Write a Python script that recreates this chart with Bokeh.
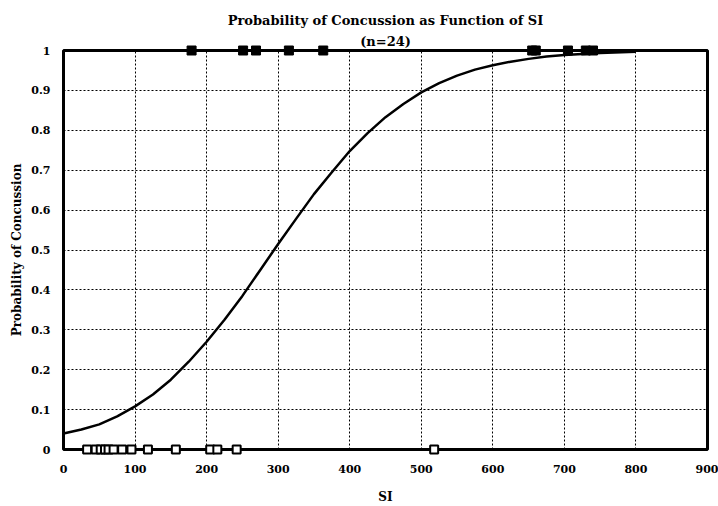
from bokeh.plotting import figure
from bokeh.models import Range1d, FixedTicker, Title
from bokeh.embed import file_html
from bokeh.resources import INLINE

# ---- data ----
curve_si = [0, 25, 50, 75, 100, 125, 150, 175, 200, 225, 250, 275, 300, 325, 350,
            375, 400, 425, 450, 475, 500, 525, 550, 575, 600, 625, 650, 675, 700,
            750, 800]
curve_p = [0.04, 0.05, 0.063, 0.083, 0.108, 0.138, 0.175, 0.22, 0.27, 0.325, 0.385,
           0.45, 0.515, 0.578, 0.64, 0.695, 0.748, 0.793, 0.833, 0.866, 0.895, 0.918,
           0.937, 0.952, 0.963, 0.972, 0.979, 0.985, 0.989, 0.994, 0.997]

concussion_si = [179, 251, 269, 315, 363, 655, 660, 705, 730, 740]
concussion_p = [1, 1, 1, 1, 1, 1, 1, 1, 1, 1]

no_concussion_si = [33, 45, 52, 58, 63, 70, 82, 95, 118, 157, 205, 215, 242, 518]
no_concussion_p = [0, 0, 0, 0, 0, 0, 0, 0, 0, 0, 0, 0, 0, 0]

x_ticks = [0, 100, 200, 300, 400, 500, 600, 700, 800, 900]
y_ticks = [0, 0.1, 0.2, 0.3, 0.4, 0.5, 0.6, 0.7, 0.8, 0.9, 1]
y_tick_labels = ["0", "0.1", "0.2", "0.3", "0.4", "0.5", "0.6", "0.7", "0.8", "0.9", "1"]

title_text = "Probability of Concussion as Function of SI"
subtitle_text = "(n=24)"
x_label = "SI"
y_label = "Probability of Concussion"

FONT = "DejaVu Serif"

p = figure(width=718, height=506, output_backend="svg", toolbar_location=None,
           x_range=Range1d(0, 900), y_range=Range1d(0, 1),
           title=title_text,
           min_border_left=63, min_border_right=11, min_border_bottom=56, min_border_top=50)

p.title.align = "center"
p.title.text_font = FONT
p.title.text_font_size = "13px"
p.title.text_font_style = "bold"
p.title.text_color = "black"
p.title.standoff = 3
p.add_layout(Title(text=subtitle_text, align="center", text_font=FONT, text_color="black",
                   text_font_size="13px", text_font_style="bold", standoff=4), "above")

p.background_fill_color = "white"
p.border_fill_color = "white"
p.outline_line_color = "black"
p.outline_line_width = 3

# grid
p.xgrid.ticker = FixedTicker(ticks=x_ticks[1:-1])
p.ygrid.ticker = FixedTicker(ticks=y_ticks[1:-1])
for g in (p.xgrid, p.ygrid):
    g.grid_line_color = "black"
    g.grid_line_width = 1
    g.grid_line_dash = "2 2"

# axes
p.xaxis.ticker = FixedTicker(ticks=x_ticks)
p.yaxis.ticker = FixedTicker(ticks=y_ticks)
p.yaxis.major_label_overrides = {t: s for t, s in zip(y_ticks, y_tick_labels)}
p.xaxis.axis_label = x_label
p.yaxis.axis_label = y_label
for ax in (p.xaxis, p.yaxis):
    ax.axis_line_color = None
    ax.major_tick_line_color = None
    ax.minor_tick_line_color = None
    ax.major_tick_out = 0
    ax.major_tick_in = 0
    ax.major_label_text_font = FONT
    ax.major_label_text_font_size = "11px"
    ax.major_label_text_font_style = "bold"
    ax.major_label_text_color = "black"
    ax.axis_label_text_font = FONT
    ax.axis_label_text_font_size = "12px"
    ax.axis_label_text_font_style = "bold"
    ax.axis_label_text_color = "black"
p.xaxis.major_label_standoff = 15
p.xaxis.axis_label_standoff = 14
p.yaxis.major_label_standoff = 13
p.yaxis.axis_label_standoff = 4

# fitted curve
p.line(curve_si, curve_p, line_color="black", line_width=2.5)

# observations
r1 = p.scatter(concussion_si, concussion_p, marker="square", size=9,
               fill_color="black", line_color="black", line_width=1)
r2 = p.scatter(no_concussion_si, no_concussion_p, marker="square", size=8,
               fill_color="white", line_color="black", line_width=2)
r1.level = "overlay"
r2.level = "overlay"

open("out.html", "w").write(file_html(p, INLINE))
